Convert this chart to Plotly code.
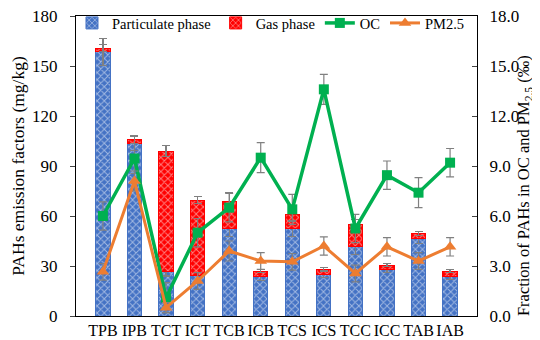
import plotly.graph_objects as go

categories = ["TPB", "IPB", "TCT", "ICT", "TCB", "ICB", "TCS", "ICS", "TCC", "ICC", "TAB", "IAB"]
particulate = [158.5, 103.5, 27, 24.5, 52.5, 23.5, 52.5, 25, 42, 28, 46.5, 24]
gas = [2.2, 2.3, 72, 45, 16.5, 3.5, 8.5, 3, 13, 2.5, 3, 3]
particulate_err = [8, 4, 3, 4, 5, 2, 5, 2, 5, 2, 3, 2]
gas_err = [2, 2.5, 3.5, 2, 5, 1, 4, 1, 3, 1, 1, 1]
oc = [6.0, 9.45, 1.1, 5.0, 6.5, 9.5, 6.4, 13.6, 5.25, 8.45, 7.4, 9.2]
oc_err = [0.85, 0.9, 0.9, 0.85, 0.85, 0.9, 0.9, 0.9, 0.85, 0.85, 0.9, 0.85]
pm25 = [2.65, 8.1, 0.5, 2.1, 3.9, 3.3, 3.25, 4.2, 2.55, 4.15, 3.3, 4.15]
pm25_err = [0.5, 0.6, 0.3, 0.5, 0.6, 0.5, 0.5, 0.55, 0.5, 0.55, 0.5, 0.55]

left_ticks = [0, 30, 60, 90, 120, 150, 180]
right_ticks = [0, 3, 6, 9, 12, 15, 18]

FONT = "Liberation Serif"
ERR = dict(type="data", thickness=1.2, width=4, color="#808080")


def f(size):
    return dict(family=FONT, size=size, color="black")


fig = go.Figure()
fig.add_trace(go.Bar(
    x=categories, y=particulate, name="Particulate phase",
    marker=dict(color="#4472C4", line=dict(color="#4472C4", width=1),
                pattern=dict(shape="x", fgcolor="white", bgcolor="#4472C4", size=5, solidity=0.35)),
    error_y=dict(array=particulate_err, **ERR),
))
fig.add_trace(go.Bar(
    x=categories, y=gas, name="Gas phase",
    marker=dict(color="#FF0000", line=dict(color="#FF0000", width=1),
                pattern=dict(shape="x", fgcolor="white", bgcolor="#FF0000", size=5, solidity=0.35)),
    error_y=dict(array=gas_err, **ERR),
))
fig.add_trace(go.Scatter(
    x=categories, y=oc, name="OC", yaxis="y2", mode="lines+markers",
    line=dict(color="#00B050", width=3.5),
    marker=dict(symbol="square", size=10, color="#00B050"),
    error_y=dict(array=oc_err, **ERR),
))
fig.add_trace(go.Scatter(
    x=categories, y=pm25, name="PM2.5", yaxis="y2", mode="lines+markers",
    line=dict(color="#ED7D31", width=3),
    marker=dict(symbol="triangle-up", size=11, color="#ED7D31"),
    error_y=dict(array=pm25_err, **ERR),
))

fig.update_layout(
    width=540, height=340,
    margin=dict(l=68, r=71, t=8, b=32, autoexpand=False),
    barmode="stack", bargap=0.55,
    plot_bgcolor="white", paper_bgcolor="white",
    font=f(17),
    showlegend=True,
    legend=dict(orientation="h", x=-0.01, y=1.03, xanchor="left", yanchor="top",
                font=f(14.5), bgcolor="rgba(0,0,0,0)", tracegroupgap=0,
                itemwidth=30, traceorder="normal"),
    xaxis=dict(showline=True, linecolor="black", linewidth=1, mirror=True, automargin=False,
               ticks="", tickangle=0, tickfont=f(16), ticklabelstandoff=0),
    yaxis=dict(range=[0, 180], tickvals=left_ticks, ticktext=[str(v) for v in left_ticks],
               automargin=False, ticklabeloverflow="allow",
               showline=True, linecolor="black", linewidth=1, ticks="outside", ticklen=5,
               showgrid=False, zeroline=False, tickfont=f(17), ticklabelstandoff=9,
               title=dict(text="PAHs emission factors (mg/kg)", font=f(17.5), standoff=4)),
    yaxis2=dict(range=[0, 18], overlaying="y", side="right",
                tickvals=right_ticks, ticktext=[f"{v:.1f}" for v in right_ticks],
                automargin=False, ticklabeloverflow="allow",
                showline=True, linecolor="black", linewidth=1, ticks="inside", ticklen=5,
                showgrid=False, zeroline=False, tickfont=f(17), ticklabelstandoff=8),
    annotations=[dict(text="Fraction of PAHs in OC and PM<sub>2.5</sub> (‰)",
                      textangle=-90, xref="paper", yref="paper",
                      x=1.0 + (516 - 469) / 400, y=1 - (178 - 8) / 300,
                      xanchor="center", yanchor="middle", showarrow=False, font=f(16.5))],
)

fig.write_html("out.html")
